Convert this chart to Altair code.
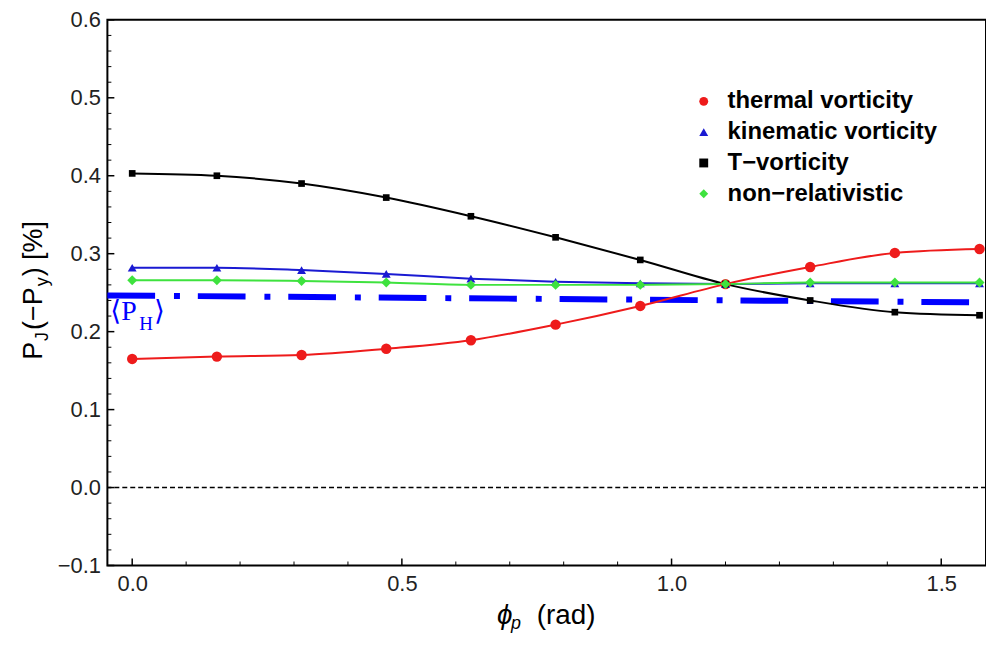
import altair as alt
import pandas as pd

# ---- data ----
phi = [0.0, 0.157, 0.314, 0.471, 0.628, 0.785, 0.942, 1.100, 1.257, 1.414, 1.571]
thermal = [0.165, 0.168, 0.170, 0.178, 0.189, 0.209, 0.233, 0.261, 0.283, 0.301, 0.306]
kinematic = [0.282, 0.282, 0.279, 0.274, 0.268, 0.264, 0.262, 0.261, 0.262, 0.262, 0.262]
t_vort = [0.403, 0.400, 0.390, 0.372, 0.348, 0.321, 0.292, 0.261, 0.240, 0.225, 0.221]
nonrel = [0.266, 0.266, 0.265, 0.263, 0.260, 0.260, 0.260, 0.261, 0.263, 0.263, 0.263]

series_names = ["thermal vorticity", "kinematic vorticity", "T\u2212vorticity", "non\u2212relativistic"]
series_colors = ["#ee1b1b", "#1a1ad2", "#000000", "#3ee23e"]
series_shapes = ["circle", "triangle-up", "square", "diamond"]
series_sizes = [110, 80, 45, 100]

ph_x = [-0.046, 1.559]
ph_y = [0.2465, 0.2376]

x_domain = [-0.046, 1.583]
y_domain = [-0.1, 0.6]
x_ticks = [0.0, 0.5, 1.0, 1.5]
y_ticks = [-0.1, 0.0, 0.1, 0.2, 0.3, 0.4, 0.5, 0.6]
x_minor = [0.1, 0.2, 0.3, 0.4, 0.6, 0.7, 0.8, 0.9, 1.1, 1.2, 1.3, 1.4]
y_minor = [round(-0.1 + 0.02 * i, 2) for i in range(36) if i % 5 != 0]

W, H = 884, 549

rows = []
for name, vals in zip(series_names, [thermal, kinematic, t_vort, nonrel]):
    for xv, yv in zip(phi, vals):
        rows.append({"phi": xv, "P": yv, "series": name})
df = pd.DataFrame(rows)

xs = alt.Scale(domain=x_domain, nice=False, zero=False)
ys = alt.Scale(domain=y_domain, nice=False, zero=False)
cs = alt.Scale(domain=series_names, range=series_colors)
ss = alt.Scale(domain=series_names, range=series_shapes)

leg = alt.Legend(orient="none", legendX=588, legendY=70, title=None)

base = alt.Chart(df)

lines = base.mark_line(strokeWidth=2, interpolate="monotone").encode(
    x=alt.X("phi:Q", scale=xs,
            axis=alt.Axis(values=x_ticks, format=".1f", title=None, ticks=False, tickSize=0,
                          domain=False, grid=False, labelPadding=8)),
    y=alt.Y("P:Q", scale=ys,
            axis=alt.Axis(values=y_ticks, format=".1f", title=None, ticks=False, tickSize=0,
                          domain=False, grid=False, labelPadding=7)),
    color=alt.Color("series:N", scale=cs, legend=leg),
    detail="series:N",
)

point_layers = []
for name, sz in zip(series_names, series_sizes):
    point_layers.append(
        base.transform_filter(alt.datum.series == name).mark_point(
            filled=True, opacity=1, size=sz, strokeWidth=0
        ).encode(
            x=alt.X("phi:Q", scale=xs),
            y=alt.Y("P:Q", scale=ys),
            color=alt.Color("series:N", scale=cs, legend=leg),
            shape=alt.Shape("series:N", scale=ss, legend=leg),
        )
    )

zero = alt.Chart(pd.DataFrame({"y": [0.0]})).mark_rule(
    color="black", strokeWidth=1.4, strokeDash=[5, 3]
).encode(y=alt.Y("y:Q", scale=ys))

ph_df = pd.DataFrame({"x": ph_x, "y": ph_y})
ph_line = alt.Chart(ph_df).mark_line(
    color="#0000ff", strokeWidth=6, strokeDash=[48, 19, 6, 18], strokeCap="butt"
).encode(x=alt.X("x:Q", scale=xs), y=alt.Y("y:Q", scale=ys))

# inner frame ticks
ytm = alt.Chart(pd.DataFrame({"v": y_ticks})).mark_rule(color="black", strokeWidth=1.5).encode(
    y=alt.Y("v:Q", scale=ys), x=alt.value(0), x2=alt.value(7))
ytn = alt.Chart(pd.DataFrame({"v": y_minor})).mark_rule(color="black", strokeWidth=1).encode(
    y=alt.Y("v:Q", scale=ys), x=alt.value(0), x2=alt.value(4))
xtm = alt.Chart(pd.DataFrame({"v": x_ticks})).mark_rule(color="black", strokeWidth=1.5).encode(
    x=alt.X("v:Q", scale=xs), y=alt.value(H), y2=alt.value(H - 7))
xtn = alt.Chart(pd.DataFrame({"v": x_minor})).mark_rule(color="black", strokeWidth=1).encode(
    x=alt.X("v:Q", scale=xs), y=alt.value(H), y2=alt.value(H - 4))

def txt(s, x, y, size, font="Liberation Sans", color="black", angle=0, style="normal", weight="normal"):
    kw = dict(text=s, font=font, fontSize=size, color=color, align="left",
              baseline="alphabetic", fontStyle=style, fontWeight=weight)
    if angle:
        kw["angle"] = angle
    return alt.Chart(pd.DataFrame({"a": [0]})).mark_text(**kw).encode(
        x=alt.value(x), y=alt.value(y))

# <P_H> label
serif = "Liberation Serif, DejaVu Serif"
lab = [
    txt("\u27e8P", 3, 302, 28, font=serif, color="#0000ff"),
    txt("H", 32, 312, 19, font=serif, color="#0000ff"),
    txt("\u27e9", 47, 302, 28, font=serif, color="#0000ff"),
]

# y title with subscripts (rotated)
yt = [
    txt("P", -66, 342, 27, angle=270),
    txt("J", -60, 323, 18, angle=270),
    txt("(\u2212P", -66, 312, 27, angle=270),
    txt("y", -60, 268, 18, angle=270),
    txt(") [%]", -66, 258, 27, angle=270),
]

# x title with subscript
xt = [
    txt("\u03d5", 392, 608, 28, style="italic"),
    txt("p", 406, 613, 18, style="italic"),
    txt("(rad)", 432, 608, 28),
]

chart = alt.layer(zero, ph_line, lines, *point_layers, ytm, ytn, xtm, xtn, *lab, *yt, *xt).properties(
    width=W, height=H,
    autosize=alt.AutoSizeParams(type="none"),
    padding={"left": 100, "top": 10, "right": 0, "bottom": 66},
).configure_view(
    stroke="black", strokeWidth=2
).configure_axis(
    labelFont="Liberation Sans", labelFontSize=22, labelColor="#222222"
).configure_legend(
    labelFont="Liberation Sans", labelFontSize=24, labelFontWeight="bold", labelColor="black",
    symbolSize=80, rowPadding=7, padding=0, labelOffset=12, symbolStrokeWidth=0,
    labelLimit=400
)

chart.save("out.html", embed_options={"renderer": "svg", "actions": False})
